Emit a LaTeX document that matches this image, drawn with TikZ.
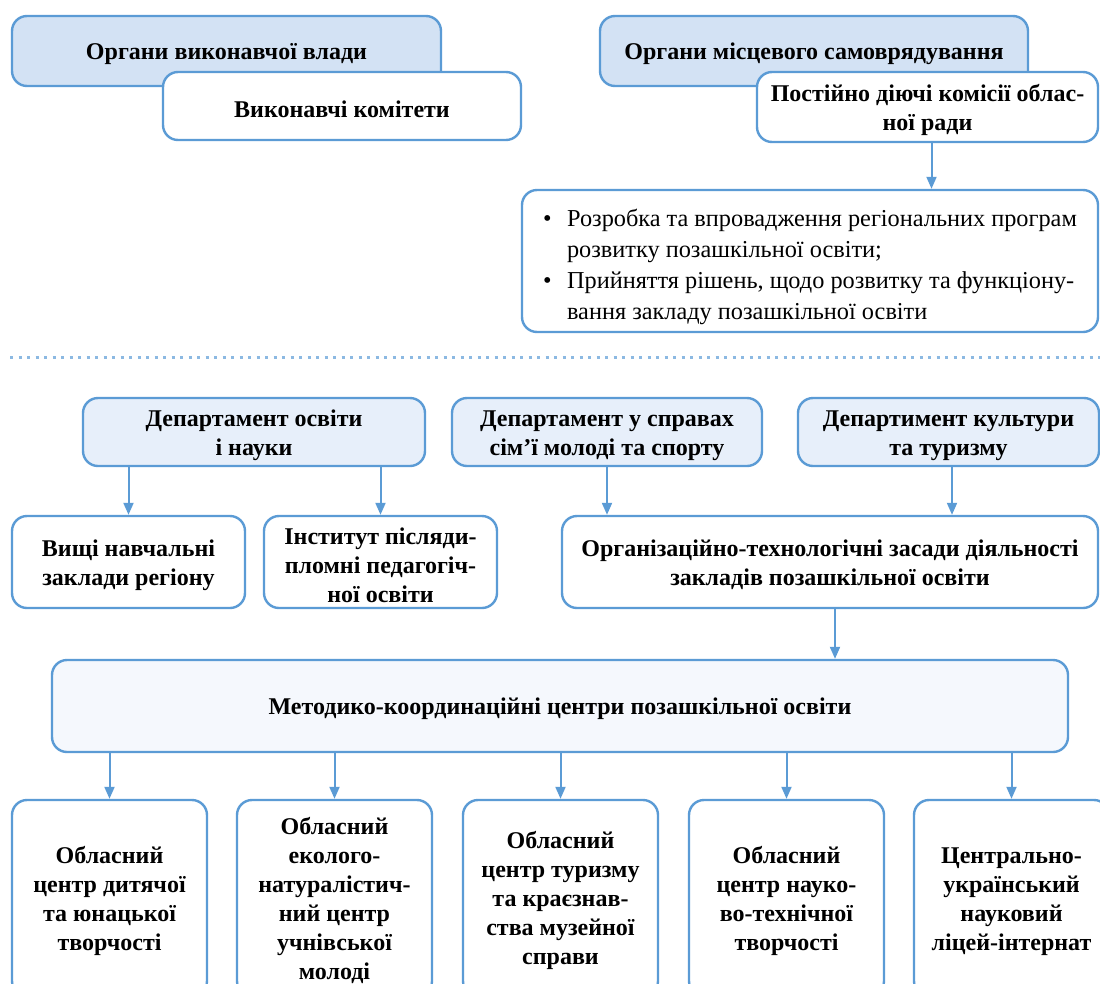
\documentclass[tikz,border=0pt]{standalone}
\usepackage{fontspec}
\setmainfont{Liberation Serif}
\usetikzlibrary{arrows.meta}
\definecolor{bord}{HTML}{5B9BD5}
\definecolor{topfill}{HTML}{D3E2F4}
\definecolor{depfill}{HTML}{E7EFFA}
\definecolor{metfill}{HTML}{F5F8FD}
\newcommand\fstrut{\rule{0pt}{23pt}}
\tikzset{
  box/.style={draw=bord, line width=2.4pt, rounded corners=15pt, inner sep=0pt, align=center, font=\fontsize{24}{29}\selectfont\bfseries},
  topbox/.style={box, fill=topfill},
  whitebox/.style={box, fill=white},
  lowbox/.style={box, fill=white},
  depbox/.style={lowbox, fill=depfill},
  arr/.style={draw=bord, line width=2pt, -{Triangle[width=10pt,length=12pt]}},
}
\begin{document}
\begin{tikzpicture}[x=1pt,y=-1pt]
\useasboundingbox (0,0) rectangle (1100,983);
\clip (0,0) rectangle (1100,983);
% top section
\node[topbox, minimum width=429pt, minimum height=70pt] (b1) at (226.5,51) {\fstrut Органи виконавчої влади};
\node[whitebox, minimum width=358pt, minimum height=68pt] (b2) at (342,106) {\fstrut Виконавчі комітети};
\node[topbox, minimum width=428pt, minimum height=70pt] (b3) at (814,51) {\fstrut Органи місцевого самоврядування};
\node[whitebox, minimum width=341pt, minimum height=70pt] (b4) at (927.5,107) {\fstrut Постійно діючі комісії облас-\\ної ради};
\node[whitebox, minimum width=576pt, minimum height=142pt, font=\fontsize{24.3}{31}\selectfont] (b5) at (810,261)
 {\begin{tabular}{@{}p{24pt}@{}l@{}}
  •\rule{0pt}{34pt} & Розробка та впровадження регіональних програм\\
    & розвитку позашкільної освіти;\\
  • & Прийняття рішень, щодо розвитку та функціону-\\
    & вання закладу позашкільної освіти
  \end{tabular}};
\draw[arr] ([xshift=4pt]b4.south) -- ([xshift=4pt]b4.south |- b5.north);
% dotted separator
\coordinate (sepL) at (10,357);
\coordinate (sepR) at (1100,357);
\draw[bord!70, line width=3pt, dash pattern=on 3pt off 5.5pt] (sepL) -- (sepR);
% departments
\node[depbox, minimum width=342pt, minimum height=68pt] (d1) at (254,432) {\fstrut Департамент освіти\\і науки};
\node[depbox, minimum width=310pt, minimum height=68pt] (d2) at (607,432) {\fstrut Департамент у справах\\сім’ї молоді та спорту};
\node[depbox, minimum width=301pt, minimum height=68pt] (d3) at (948.5,432) {\fstrut Департимент культури\\та туризму};
\node[lowbox, minimum width=233pt, minimum height=92pt] (v1) at (128.5,562) {\fstrut Вищі навчальні\\заклади регіону};
\node[lowbox, minimum width=233pt, minimum height=92pt] (v2) at (380.5,562) {\fstrut Інститут післяди-\\пломні педагогіч-\\ної освіти};
\node[lowbox, minimum width=536pt, minimum height=92pt] (org) at (830,562) {\fstrut Організаційно-технологічні засади діяльності\\закладів позашкільної освіти};
\draw[arr] (v1.north |- d1.south) -- (v1.north);
\draw[arr] (v2.north |- d1.south) -- (v2.north);
\draw[arr] (d2.south) -- (d2.south |- org.north);
\draw[arr] ([xshift=3.5pt]d3.south) -- ([xshift=3.5pt]d3.south |- org.north);
\node[lowbox, fill=metfill, minimum width=1016pt, minimum height=92pt] (met) at (560,706) {\fstrut Методико-координаційні центри позашкільної освіти};
\draw[arr] ([xshift=5pt]org.south) -- ([xshift=5pt]org.south |- met.north);
% bottom row
\node[lowbox, minimum width=195pt, minimum height=196pt] (o1) at (109.5,898) {\fstrut Обласний\\центр дитячої\\та юнацької\\творчості};
\node[lowbox, minimum width=195pt, minimum height=196pt] (o2) at (334.5,898) {\fstrut Обласний\\еколого-\\натуралістич-\\ний центр\\учнівської\\молоді};
\node[lowbox, minimum width=195pt, minimum height=196pt] (o3) at (560.5,898) {\fstrut Обласний\\центр туризму\\та краєзнав-\\ства музейної\\справи};
\node[lowbox, minimum width=195pt, minimum height=196pt] (o4) at (786.5,898) {\fstrut Обласний\\центр науко-\\во-технічної\\творчості};
\node[lowbox, minimum width=195pt, minimum height=196pt] (o5) at (1011.5,898) {\fstrut Центрально-\\український\\науковий\\ліцей-інтернат};
\foreach \n in {o1,o2,o3,o4,o5} {
  \draw[arr] (met.south -| \n.north) -- (\n.north);
}
\end{tikzpicture}
\end{document}
